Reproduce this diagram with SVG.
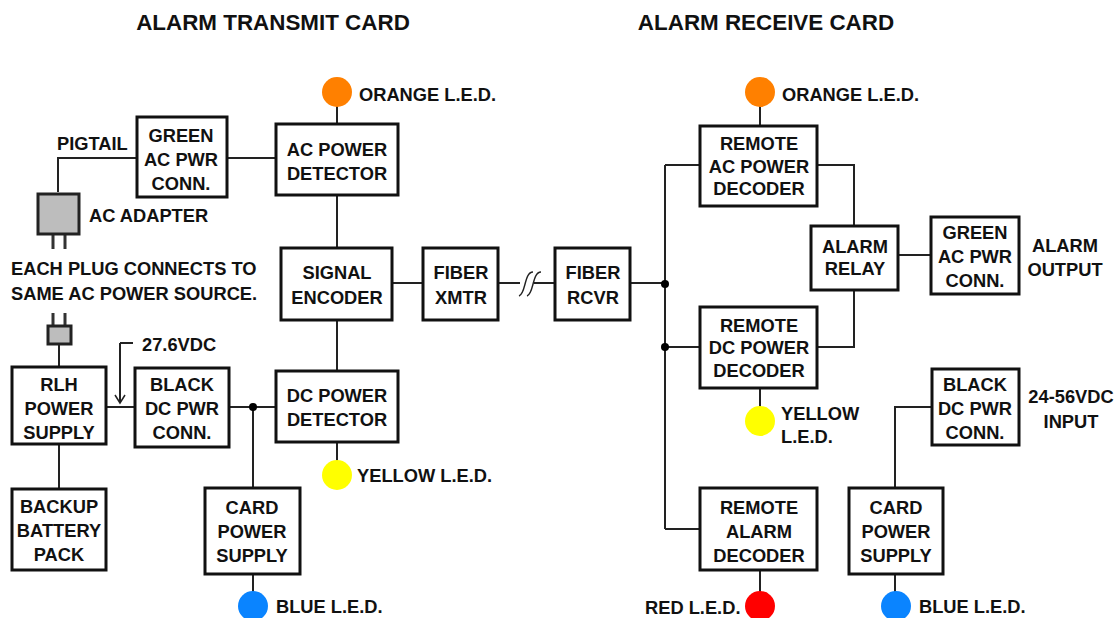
<svg xmlns="http://www.w3.org/2000/svg" width="1118" height="618" viewBox="0 0 1118 618">
<style>
.b{fill:#fff;stroke:#111;stroke-width:3}
.l{fill:none;stroke:#222;stroke-width:2}
.d{fill:#000}
.g{fill:#bdbdbd;stroke:#222;stroke-width:3}
.t{font-family:"Liberation Sans",Arial,sans-serif;font-size:18.3px;font-weight:700;fill:#111;text-anchor:middle}
.s{text-anchor:start}
.h{font-size:22.4px}
.p{fill:none;stroke:#333;stroke-width:3}
</style>
<rect width="1118" height="618" fill="#fff"/>
<g id="connectors">
<path class="l" d="M58 192V158H137M227 158H276M337 106V124M337 195V248M337 320V371M337 442V462M392 283H423M498 283H520M534 283H555M630 283H665M665 165V529M665 165H700M665 347H700M665 529H700M817 165H854V226M817 347H854V290M898 255H931M760 106V126M760 388V408M760 570V594M120 343H133M120 343V402M107 407H135M229 407H276M253 407V488M253 574V594M59 344V367M59 444V489M895 488V407H932M895 574V594"/>
<path class="p" d="M53 234V249M65 234V249M53 313V326M65 313V326"/>
<path d="M115 395L120 403L125 395" fill="none" stroke="#222" stroke-width="1.5"/>
<path d="M519 296C526 294 524 272 533 272M527 296C534 294 532 272 541 272" fill="none" stroke="#222" stroke-width="1.5"/>
<circle class="d" cx="665" cy="284" r="4"/><circle class="d" cx="665" cy="347" r="4"/><circle class="d" cx="253" cy="407" r="4"/>
</g>
<g id="title-tx"><text class="t h" x="273" y="30">ALARM TRANSMIT CARD</text></g>
<g id="title-rx"><text class="t h" x="766" y="30">ALARM RECEIVE CARD</text></g>
<g id="green-tx"><rect class="b" x="137" y="117" width="90" height="80"/><text class="t" x="181" y="142">GREEN</text><text class="t" x="181" y="166">AC PWR</text><text class="t" x="181" y="190">CONN.</text></g>
<g id="ac-det"><rect class="b" x="276" y="124" width="122" height="71"/><text class="t" x="337" y="156">AC POWER</text><text class="t" x="337" y="180">DETECTOR</text></g>
<g id="encoder"><rect class="b" x="281" y="248" width="111" height="72"/><text class="t" x="337" y="279">SIGNAL</text><text class="t" x="337" y="304">ENCODER</text></g>
<g id="xmtr"><rect class="b" x="423" y="248" width="75" height="72"/><text class="t" x="461" y="279">FIBER</text><text class="t" x="461" y="304">XMTR</text></g>
<g id="rcvr"><rect class="b" x="555" y="248" width="75" height="72"/><text class="t" x="593" y="279">FIBER</text><text class="t" x="593" y="304">RCVR</text></g>
<g id="dc-det"><rect class="b" x="276" y="371" width="122" height="71"/><text class="t" x="337" y="402">DC POWER</text><text class="t" x="337" y="426">DETECTOR</text></g>
<g id="black-tx"><rect class="b" x="135" y="368" width="94" height="79"/><text class="t" x="182" y="391">BLACK</text><text class="t" x="182" y="415">DC PWR</text><text class="t" x="182" y="439">CONN.</text></g>
<g id="rlh"><rect class="b" x="12" y="367" width="94" height="77"/><text class="t" x="59" y="391">RLH</text><text class="t" x="59" y="415">POWER</text><text class="t" x="59" y="439">SUPPLY</text></g>
<g id="battery"><rect class="b" x="12" y="489" width="94" height="81"/><text class="t" x="59" y="513">BACKUP</text><text class="t" x="59" y="537">BATTERY</text><text class="t" x="59" y="561">PACK</text></g>
<g id="card-tx"><rect class="b" x="205" y="488" width="95" height="86"/><text class="t" x="252" y="514">CARD</text><text class="t" x="252" y="538">POWER</text><text class="t" x="252" y="562">SUPPLY</text></g>
<g id="adapter"><rect class="g" x="38" y="194" width="41" height="40"/><text class="t s" x="89" y="222">AC ADAPTER</text></g>
<g id="plug"><rect class="g" x="48" y="326" width="23" height="18"/></g>
<g id="note"><text class="t s" x="11" y="275">EACH PLUG CONNECTS TO</text><text class="t s" x="11" y="300">SAME AC POWER SOURCE.</text></g>
<g id="pigtail"><text class="t s" x="57" y="150">PIGTAIL</text></g>
<g id="v276"><text class="t s" x="142" y="351">27.6VDC</text></g>
<g id="led-o1"><circle cx="337" cy="92" r="15" fill="#ff8000"/><text class="t s" x="359" y="101">ORANGE L.E.D.</text></g>
<g id="led-y1"><circle cx="337" cy="475" r="15" fill="#ffff00"/><text class="t s" x="357" y="482">YELLOW L.E.D.</text></g>
<g id="led-b1"><circle cx="253" cy="606" r="15" fill="#0a84ff"/><text class="t s" x="276" y="613">BLUE L.E.D.</text></g>
<g id="ac-dec"><rect class="b" x="700" y="126" width="117" height="80"/><text class="t" x="759" y="150">REMOTE</text><text class="t" x="759" y="173">AC POWER</text><text class="t" x="759" y="195">DECODER</text></g>
<g id="dc-dec"><rect class="b" x="700" y="307" width="117" height="81"/><text class="t" x="759" y="332">REMOTE</text><text class="t" x="759" y="354">DC POWER</text><text class="t" x="759" y="377">DECODER</text></g>
<g id="alarm-dec"><rect class="b" x="700" y="488" width="117" height="82"/><text class="t" x="759" y="514">REMOTE</text><text class="t" x="759" y="538">ALARM</text><text class="t" x="759" y="562">DECODER</text></g>
<g id="relay"><rect class="b" x="811" y="226" width="87" height="64"/><text class="t" x="855" y="253">ALARM</text><text class="t" x="855" y="275">RELAY</text></g>
<g id="green-rx"><rect class="b" x="931" y="217" width="88" height="77"/><text class="t" x="975" y="239">GREEN</text><text class="t" x="975" y="263">AC PWR</text><text class="t" x="975" y="287">CONN.</text></g>
<g id="black-rx"><rect class="b" x="932" y="369" width="87" height="76"/><text class="t" x="975" y="391">BLACK</text><text class="t" x="975" y="415">DC PWR</text><text class="t" x="975" y="439">CONN.</text></g>
<g id="card-rx"><rect class="b" x="849" y="488" width="94" height="86"/><text class="t" x="896" y="514">CARD</text><text class="t" x="896" y="538">POWER</text><text class="t" x="896" y="562">SUPPLY</text></g>
<g id="out-label"><text class="t" x="1065" y="252">ALARM</text><text class="t" x="1065" y="276">OUTPUT</text></g>
<g id="in-label"><text class="t" x="1071" y="403">24-56VDC</text><text class="t" x="1071" y="428">INPUT</text></g>
<g id="led-o2"><circle cx="760" cy="92" r="15" fill="#ff8000"/><text class="t s" x="782" y="101">ORANGE L.E.D.</text></g>
<g id="led-y2"><circle cx="760" cy="421" r="15" fill="#ffff00"/><text class="t s" x="781" y="420">YELLOW</text><text class="t s" x="781" y="443">L.E.D.</text></g>
<g id="led-r"><circle cx="760" cy="606" r="15" fill="#f00"/><text class="t s" x="645" y="614">RED L.E.D.</text></g>
<g id="led-b2"><circle cx="896" cy="606" r="15" fill="#0a84ff"/><text class="t s" x="919" y="613">BLUE L.E.D.</text></g>
</svg>
